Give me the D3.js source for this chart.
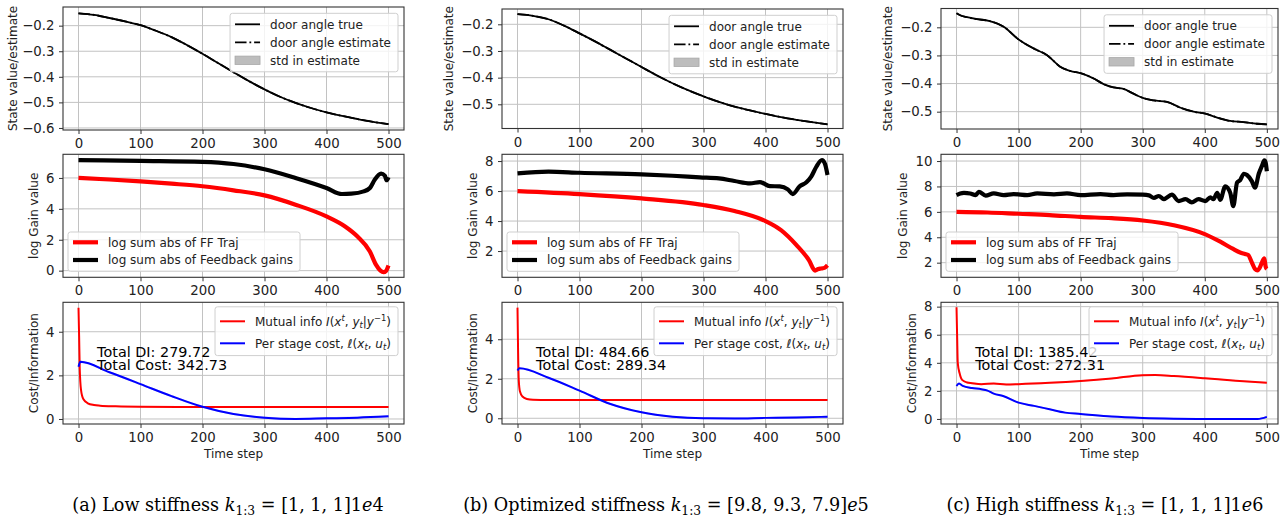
<!DOCTYPE html>
<html><head><meta charset="utf-8">
<script src="https://d3js.org/d3.v7.min.js"></script>
<style>
body{margin:0;background:#fff;}
svg{display:block;}
text{font-family:"DejaVu Sans",sans-serif;white-space:pre;}
text.caption{font-family:"DejaVu Serif",serif;}
</style></head>
<body>
<script>
// ================= DATA =================
const timeTicks = [0, 100, 200, 300, 400, 500];
const angleTicksA = [-0.6, -0.5, -0.4, -0.3, -0.2];
const angleTicksBC = [-0.5, -0.4, -0.3, -0.2];
const gainTicksA = [0, 2, 4, 6];
const gainTicksB = [2, 4, 6, 8];
const gainTicksC = [2, 4, 6, 8, 10];
const costTicksAB = [0, 2, 4];
const costTicksC = [0, 2, 4, 6, 8];

// door angle (true == estimate, visually) [time step, value]
const angleA = [[0,-0.152],[25,-0.158],[50,-0.170],[75,-0.183],[100,-0.198],[125,-0.220],[150,-0.245],[175,-0.276],[200,-0.310],[225,-0.346],[250,-0.382],[275,-0.417],[300,-0.449],[325,-0.478],[350,-0.502],[375,-0.522],[400,-0.539],[425,-0.553],[450,-0.565],[475,-0.576],[500,-0.585]];
const angleB = [[0,-0.162],[25,-0.168],[50,-0.181],[75,-0.205],[100,-0.234],[125,-0.264],[150,-0.296],[175,-0.328],[200,-0.360],[225,-0.392],[250,-0.421],[275,-0.447],[300,-0.470],[325,-0.491],[350,-0.509],[375,-0.523],[400,-0.536],[425,-0.548],[450,-0.558],[475,-0.567],[500,-0.575]];
const angleC = [[0,-0.150],[5,-0.156],[17,-0.164],[33,-0.171],[52,-0.177],[76,-0.198],[100,-0.243],[124,-0.275],[146,-0.299],[167,-0.340],[183,-0.355],[201,-0.364],[221,-0.382],[237,-0.402],[253,-0.414],[269,-0.419],[285,-0.436],[300,-0.451],[318,-0.460],[339,-0.465],[361,-0.486],[382,-0.500],[401,-0.507],[420,-0.521],[441,-0.533],[462,-0.537],[484,-0.543],[500,-0.545]];

// log sum abs of FF traj
const ffA = [[0,6.0],[50,5.9],[100,5.78],[150,5.63],[200,5.46],[250,5.2],[300,4.87],[350,4.27],[400,3.51],[430,2.86],[450,2.21],[470,1.24],[480,0.37],[487,0.0],[492,-0.1],[496,-0.02],[500,0.33]];
const ffB = [[0,6.0],[100,5.8],[200,5.51],[300,5.07],[350,4.67],[400,4.0],[425,3.4],[450,2.4],[470,1.4],[480,0.7],[485,0.8],[490,0.84],[495,0.88],[500,1.05]];
const ffC = [[0,6.0],[50,5.95],[100,5.85],[150,5.75],[200,5.6],[250,5.5],[300,5.32],[350,4.95],[400,4.25],[425,3.65],[445,3.1],[457,2.8],[465,2.68],[470,2.6],[476,2.0],[481,1.5],[485,1.4],[488,1.55],[492,2.0],[496,2.35],[498,1.7],[500,1.5]];

// log sum abs of feedback gains
const fbA = [[0,7.15],[100,7.1],[200,7.04],[250,6.9],[300,6.56],[350,6.0],[400,5.35],[425,4.96],[440,4.98],[460,5.13],[470,5.35],[478,5.9],[488,6.28],[494,6.15],[497,5.85],[500,6.05]];
const fbB = [[0,7.18],[50,7.29],[100,7.22],[200,7.11],[250,7.02],[294,6.91],[325,6.84],[350,6.67],[375,6.51],[391,6.6],[407,6.33],[423,6.31],[436,6.11],[444,5.8],[455,6.31],[466,6.58],[474,6.98],[482,7.62],[491,8.07],[496,7.8],[500,7.07]];
const fbC = [[0,7.32],[6,7.45],[12,7.5],[22,7.45],[31,7.32],[36,7.58],[47,7.28],[60,7.45],[76,7.32],[92,7.4],[114,7.32],[130,7.45],[157,7.38],[178,7.45],[200,7.32],[232,7.4],[253,7.32],[275,7.38],[300,7.35],[310,7.3],[318,7.1],[326,7.25],[334,7.0],[347,7.35],[358,6.85],[369,7.0],[379,6.75],[390,7.0],[401,6.85],[409,7.15],[414,7.0],[420,7.5],[425,6.95],[433,8.0],[441,7.5],[446,6.45],[452,8.3],[457,8.5],[463,9.0],[468,8.9],[476,8.4],[481,7.9],[487,9.0],[492,9.6],[496,10.05],[498,9.9],[500,9.2]];

// mutual information I(x^t, y_t | y^{t-1})
const miA = [[0,5.1],[1,3.8],[2,2.3],[4,1.35],[8,0.9],[15,0.72],[25,0.64],[35,0.61],[60,0.58],[100,0.56],[200,0.55],[500,0.55]];
const miB = [[0,5.6],[1,3.3],[2,1.95],[4,1.35],[8,1.1],[15,0.98],[25,0.94],[50,0.93],[500,0.93]];
const miC = [[0,7.95],[1,5.9],[2,4.0],[5,3.25],[9,2.78],[17,2.6],[25,2.55],[40,2.48],[60,2.52],[80,2.46],[100,2.48],[150,2.57],[200,2.7],[250,2.88],[300,3.12],[320,3.13],[350,3.06],[400,2.9],[450,2.72],[500,2.58]];

// per stage cost
const costA = [[0,2.4],[3,2.62],[50,2.14],[100,1.6],[150,1.05],[200,0.56],[250,0.23],[300,0.06],[350,0.0],[400,0.03],[450,0.06],[500,0.12]];
const costB = [[0,2.42],[3,2.53],[50,2.05],[100,1.4],[150,0.72],[200,0.3],[250,0.08],[300,0.0],[350,-0.01],[400,0.02],[450,0.04],[500,0.08]];
const costC = [[0,2.35],[4,2.52],[10,2.35],[25,2.2],[40,2.12],[50,2.02],[60,1.8],[75,1.64],[100,1.16],[125,0.93],[150,0.69],[175,0.45],[200,0.36],[250,0.17],[300,0.07],[350,0.02],[400,0.0],[485,0.0],[500,0.15]];

// std bands (half-width) per column
const miStd = [0.03, 0.03, 0.06];
const costStd = [0.05, 0.05, 0.06];

const totalDI = ["279.72", "484.66", "1385.42"];
const totalCost = ["342.73", "289.34", "272.31"];
const captionLabels = ["(a) Low stiffness ", "(b) Optimized stiffness ", "(c) High stiffness "];
const captionValues = [["[1, 1, 1]1", "4"], ["[9.8, 9.3, 7.9]", "5"], ["[1, 1, 1]1", "6"]];

// ================= LAYOUT =================
const layoutCols = [
  {L: 63, R: 404, xMax: 525, capX: 228},
  {L: 502, R: 843, xMax: 525, capX: 666},
  {L: 941, R: 1278, xMax: 518, capX: 1105}
];
const layoutRows = [
  [[7, 130], [154.3, 277.3], [302.3, 424]],
  [[9, 128.5], [154.3, 277.3], [302.3, 424]],
  [[8.5, 129], [154.3, 277.3], [302.3, 424]]
];
const yDomains = [
  [[-0.608, -0.127], [-0.43, 7.53], [-0.23, 5.35]],
  [[-0.5907, -0.1426], [0.25, 8.45], [-0.29, 5.87]],
  [[-0.5616, -0.1331], [0.85, 10.53], [-0.36, 8.31]]
];
const TICK_FS = 13.3;

const columns = [
  {angle: angleA, ff: ffA, fb: fbA, mi: miA, cost: costA, at: angleTicksA, gt: gainTicksA, ct: costTicksAB},
  {angle: angleB, ff: ffB, fb: fbB, mi: miB, cost: costB, at: angleTicksBC, gt: gainTicksB, ct: costTicksAB},
  {angle: angleC, ff: ffC, fb: fbC, mi: miC, cost: costC, at: angleTicksBC, gt: gainTicksC, ct: costTicksC}
];

const RED = "#ff0000", BLUE = "#0000ff", BLACK = "#000000";
const svg = d3.select("body").append("svg").attr("width", 1286).attr("height", 520);
const defs = svg.append("defs");
let clipN = 0;

function rich(t, parts, fs) {
  if (typeof parts === "string") { t.text(parts); return; }
  let cur = 0;
  parts.forEach(p => {
    const off = p.sup ? -0.42 * fs : p.sub ? 0.24 * fs : 0;
    const ts = t.append("tspan").text(p.t).attr("dy", off - cur);
    if (p.i) ts.attr("font-style", "italic");
    if (p.sup || p.sub) ts.attr("font-size", fs * 0.7);
    cur = off;
  });
}

function makeAxes(ci, ri, yTicks, yFmt, ylabel, xlabel) {
  const c = layoutCols[ci], [top, bot] = layoutRows[ci][ri];
  const x = d3.scaleLinear().domain([-25, c.xMax]).range([c.L, c.R]);
  const y = d3.scaleLinear().domain(yDomains[ci][ri]).range([bot, top]);
  const g = svg.append("g");
  g.selectAll(null).data(timeTicks).join("line")
    .attr("x1", d => x(d)).attr("x2", d => x(d)).attr("y1", top).attr("y2", bot)
    .attr("stroke", "#c2c2c2").attr("stroke-width", 1);
  g.selectAll(null).data(yTicks).join("line")
    .attr("y1", d => y(d)).attr("y2", d => y(d)).attr("x1", c.L).attr("x2", c.R)
    .attr("stroke", "#c2c2c2").attr("stroke-width", 1);
  const id = "clip" + (clipN++);
  defs.append("clipPath").attr("id", id).append("rect")
    .attr("x", c.L).attr("y", top).attr("width", c.R - c.L).attr("height", bot - top);
  const plot = g.append("g").attr("clip-path", `url(#${id})`);
  g.append("rect").attr("x", c.L).attr("y", top).attr("width", c.R - c.L).attr("height", bot - top)
    .attr("fill", "none").attr("stroke", "#333").attr("stroke-width", 1.1);
  const xa = g.append("g").attr("transform", `translate(0,${bot})`)
    .call(d3.axisBottom(x).tickValues(timeTicks).tickSize(4).tickPadding(4.6).tickFormat(d3.format("d")));
  const ya = g.append("g").attr("transform", `translate(${c.L},0)`)
    .call(d3.axisLeft(y).tickValues(yTicks).tickSize(4).tickPadding(4.5).tickFormat(yFmt));
  [xa, ya].forEach(a => {
    a.select(".domain").remove();
    a.selectAll("line").attr("stroke", "#333").attr("stroke-width", 1);
    a.selectAll("text").attr("font-size", TICK_FS).attr("fill", "#222");
  });
  const bb = ya.node().getBBox();
  const lx = Math.max(13.3, c.L + bb.x - 12.5);
  g.append("text").attr("transform", `translate(${lx},${(top + bot) / 2}) rotate(-90)`)
    .attr("text-anchor", "middle").attr("dominant-baseline", "central")
    .attr("font-size", 12).attr("fill", "#222").text(ylabel);
  if (xlabel) {
    g.append("text").attr("x", (c.L + c.R) / 2).attr("y", bot + 33.5).attr("text-anchor", "middle")
      .attr("font-size", 12).attr("fill", "#222").text(xlabel);
  }
  return {g, plot, x, y, top, bot, L: c.L, R: c.R};
}

function legend(ax, items, o) {
  const lg = ax.g.append("g");
  const box = lg.append("rect");
  const texts = [];
  items.forEach((it, i) => {
    const cy = o.padTop + i * o.rowH;
    if (it.patch) {
      lg.append("rect").attr("x", 5).attr("y", cy - 4.2).attr("width", 25).attr("height", 8.4)
        .attr("fill", "#bdbdbd").attr("stroke", "#a8a8a8").attr("stroke-width", 0.8);
    } else {
      lg.append("line").attr("x1", 5).attr("x2", 30).attr("y1", cy).attr("y2", cy)
        .attr("stroke", it.color).attr("stroke-width", it.w).attr("stroke-dasharray", it.dash || null);
    }
    const t = lg.append("text").attr("x", 40).attr("y", cy + 4.3).attr("font-size", 12).attr("fill", "#222");
    rich(t, it.label, 12);
    texts.push(t);
  });
  const tw = d3.max(texts, t => t.node().getBBox().width);
  const w = 40 + tw + 7, h = o.padTop + (items.length - 1) * o.rowH + o.padBot;
  box.attr("width", w).attr("height", h).attr("rx", 2.5)
    .attr("fill", "rgba(255,255,255,0.8)").attr("stroke", "#cfcfcf").attr("stroke-width", 1);
  const tx = o.anchor === "ur" ? ax.R - 6 - w : ax.L + 5;
  const ty = o.anchor === "ur" ? ax.top + o.dy : ax.bot - 6 - h;
  lg.attr("transform", `translate(${tx},${ty})`);
}

const mk = (ax, curve) => d3.line().x(d => ax.x(d[0])).y(d => ax.y(d[1])).curve(curve || d3.curveMonotoneX);
const band = (ax, s) => d3.area().x(d => ax.x(d[0])).y0(d => ax.y(d[1] - s)).y1(d => ax.y(d[1] + s)).curve(d3.curveMonotoneX);

const miLabel = [{t: "Mutual info "}, {t: "I", i: 1}, {t: "("}, {t: "x", i: 1}, {t: "t", i: 1, sup: 1}, {t: ", "}, {t: "y", i: 1}, {t: "t", i: 1, sub: 1}, {t: "|"}, {t: "y", i: 1}, {t: "−1", sup: 1}, {t: ")"}];
const costLabel = [{t: "Per stage cost, "}, {t: "ℓ", i: 1}, {t: "("}, {t: "x", i: 1}, {t: "t", i: 1, sub: 1}, {t: ", "}, {t: "u", i: 1}, {t: "t", i: 1, sub: 1}, {t: ")"}];

columns.forEach((col, ci) => {
  // ---- top: state ----
  const a1 = makeAxes(ci, 0, col.at, d3.format(".1f"), "State value/estimate", null);
  a1.plot.append("path").datum(col.angle).attr("d", mk(a1)).attr("fill", "none")
    .attr("stroke", BLACK).attr("stroke-width", 1.8).attr("stroke-dasharray", "11.5,2.9,1.8,2.9");
  a1.plot.append("path").datum(col.angle).attr("d", mk(a1)).attr("fill", "none")
    .attr("stroke", BLACK).attr("stroke-width", 1.8);
  legend(a1, [
    {label: "door angle true", color: BLACK, w: 1.8},
    {label: "door angle estimate", color: BLACK, w: 1.8, dash: "11.5,2.9,1.8,2.9"},
    {label: "std in estimate", patch: true}
  ], {anchor: "ur", dy: 6.3, padTop: 11, rowH: 18, padBot: 11.5});

  // ---- middle: gains ----
  const a2 = makeAxes(ci, 1, col.gt, d3.format("d"), "log Gain value", null);
  a2.plot.append("path").datum(col.ff).attr("d", mk(a2)).attr("fill", "none")
    .attr("stroke", RED).attr("stroke-width", 4.2).attr("stroke-linejoin", "round");
  a2.plot.append("path").datum(col.fb).attr("d", mk(a2)).attr("fill", "none")
    .attr("stroke", BLACK).attr("stroke-width", 4.2).attr("stroke-linejoin", "round");
  legend(a2, [
    {label: "log sum abs of FF Traj", color: RED, w: 4.2},
    {label: "log sum abs of Feedback gains", color: BLACK, w: 4.2}
  ], {anchor: "ll", padTop: 10.3, rowH: 17.7, padBot: 11.3});

  // ---- bottom: cost / info ----
  const a3 = makeAxes(ci, 2, col.ct, d3.format("d"), "Cost/Information", "Time step");
  a3.plot.append("path").datum(col.mi).attr("d", band(a3, miStd[ci])).attr("fill", RED).attr("opacity", 0.22);
  a3.plot.append("path").datum(col.mi).attr("d", mk(a3)).attr("fill", "none")
    .attr("stroke", RED).attr("stroke-width", 2);
  a3.plot.append("path").datum(col.cost).attr("d", band(a3, costStd[ci])).attr("fill", BLUE).attr("opacity", 0.2);
  a3.plot.append("path").datum(col.cost).attr("d", mk(a3)).attr("fill", "none")
    .attr("stroke", BLUE).attr("stroke-width", 2);
  const h3 = a3.bot - a3.top;
  a3.g.append("text").attr("x", a3.x(30)).attr("y", a3.bot - 0.552 * h3)
    .attr("font-size", 14.4).attr("fill", "#000").text("Total DI: " + totalDI[ci]);
  a3.g.append("text").attr("x", a3.x(30)).attr("y", a3.bot - 0.444 * h3)
    .attr("font-size", 14.4).attr("fill", "#000").text("Total Cost: " + totalCost[ci]);
  legend(a3, [
    {label: miLabel, color: RED, w: 2},
    {label: costLabel, color: BLUE, w: 2}
  ], {anchor: "ur", dy: 4.5, padTop: 14.5, rowH: 22, padBot: 12.3});

  // ---- caption ----
  const cap = svg.append("text").attr("class", "caption").attr("x", layoutCols[ci].capX).attr("y", 510.5)
    .attr("text-anchor", "middle").attr("font-size", 17.6).attr("fill", "#000");
  rich(cap, [
    {t: captionLabels[ci]}, {t: "k", i: 1}, {t: "1:3", sub: 1},
    {t: " = " + captionValues[ci][0]}, {t: "e", i: 1}, {t: captionValues[ci][1]}
  ], 17.6);
});
</script>
</body></html>
